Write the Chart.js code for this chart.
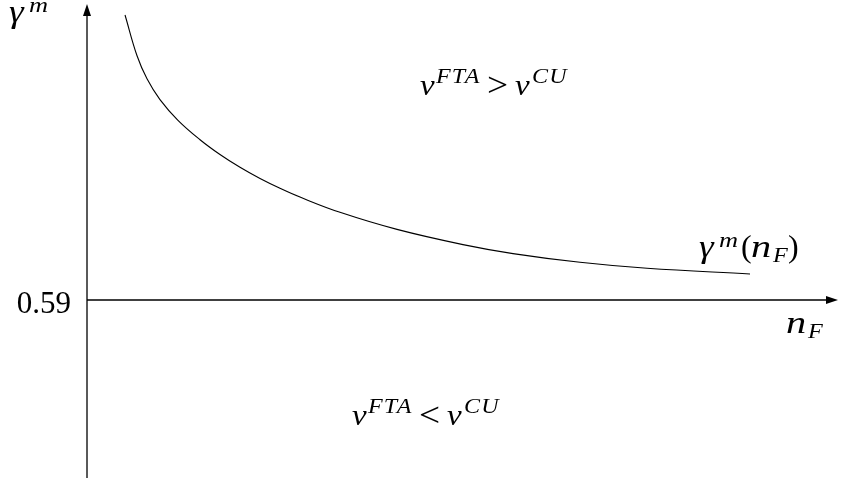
<!DOCTYPE html>
<html>
<head>
<meta charset="utf-8">
<script src="https://cdn.jsdelivr.net/npm/chart.js@4"></script>
<style>
  html, body { margin: 0; padding: 0; background: #fff; }
  #wrap { width: 841px; height: 482px; }
</style>
</head>
<body>
<div id="wrap"><canvas id="gammaChart" width="841" height="482"></canvas></div>
<script>
// curve gamma^m(n_F)
const nF = [0.507, 0.667, 0.8, 0.973, 1.213, 1.507, 1.773, 2.04, 2.307, 2.573, 2.84, 3.373, 4.133, 5.013, 5.68, 6.573, 7.467, 8.84];
const gammaM = [0.875, 0.8342, 0.8112, 0.7904, 0.7697, 0.7503, 0.7355, 0.7227, 0.7115, 0.7017, 0.6929, 0.6777, 0.6606, 0.6454, 0.6364, 0.6277, 0.6217, 0.616];
const yTickValues = [0.59];
const yTickLabels = ['0.59'];

const SERIF = '"Liberation Serif", "DejaVu Serif", serif';

// draw math pieces at offsets from an anchor: {t, ox, size, it, rise, sx}
function drawMath(ctx, x, y, pieces) {
  pieces.forEach(function (p) {
    ctx.save();
    ctx.font = (p.it ? 'italic ' : '') + p.size + 'px ' + SERIF;
    ctx.translate(x + p.ox, y - (p.rise || 0));
    ctx.scale(p.sx || 1, 1);
    if (p.ls) ctx.letterSpacing = p.ls + 'px';
    ctx.fillText(p.t, 0, 0);
    ctx.restore();
  });
}

const vCompare = function (rel) {
  return [
    { t: 'v', ox: 0, size: 30, it: true, sx: 1.1 },
    { t: 'FTA', ox: 16, size: 20, it: true, rise: 12, sx: 1.2, ls: 1 },
    { t: rel, ox: 67, size: 34, sx: 1.1, rise: -1 },
    { t: 'v', ox: 95, size: 30, it: true, sx: 1.1 },
    { t: 'CU', ox: 112, size: 20, it: true, rise: 12, sx: 1.2, ls: 1 },
  ];
};

const axesAndLabels = {
  id: 'axesAndLabels',
  afterDatasetsDraw(chart) {
    const ctx = chart.ctx;
    const xs = chart.scales.x;
    const ys = chart.scales.y;
    const x0 = xs.getPixelForValue(0);
    const y0 = ys.getPixelForValue(yTickValues[0]);
    ctx.save();
    ctx.strokeStyle = '#000';
    ctx.fillStyle = '#000';
    ctx.lineWidth = 1.3;

    // vertical axis with arrow
    ctx.beginPath();
    ctx.moveTo(x0, chart.chartArea.bottom - 4);
    ctx.lineTo(x0, 14);
    ctx.stroke();
    ctx.beginPath();
    ctx.moveTo(x0, 4);
    ctx.lineTo(x0 - 4, 16);
    ctx.lineTo(x0 + 4, 16);
    ctx.closePath();
    ctx.fill();

    // horizontal axis with arrow
    const xr = chart.chartArea.right - 3;
    ctx.beginPath();
    ctx.moveTo(x0, y0);
    ctx.lineTo(xr - 10, y0);
    ctx.stroke();
    ctx.beginPath();
    ctx.moveTo(xr, y0);
    ctx.lineTo(xr - 12, y0 - 4);
    ctx.lineTo(xr - 12, y0 + 4);
    ctx.closePath();
    ctx.fill();

    ctx.textBaseline = 'alphabetic';
    ctx.textAlign = 'left';

    // tick label
    ctx.font = '31px ' + SERIF;
    ctx.textAlign = 'right';
    ctx.fillText(yTickLabels[0], x0 - 16, y0 + 13);
    ctx.textAlign = 'left';

    // y axis title
    drawMath(ctx, 9, 22, [
      { t: '\u03B3', ox: 0, size: 31, it: true, sx: 1.2 },
      { t: 'm', ox: 20, size: 22, it: true, rise: 10, sx: 1.2 },
    ]);

    // x axis title
    drawMath(ctx, 786, 333, [
      { t: 'n', ox: 0, size: 31, it: true, sx: 1.3 },
      { t: 'F', ox: 22, size: 21, it: true, rise: -5, sx: 1.15 },
    ]);

    // curve label
    drawMath(ctx, 699, 257, [
      { t: '\u03B3', ox: 0, size: 31, it: true, sx: 1.2 },
      { t: 'm', ox: 20, size: 22, it: true, rise: 10, sx: 1.2 },
      { t: '(', ox: 42, size: 32 },
      { t: 'n', ox: 52, size: 31, it: true, sx: 1.3 },
      { t: 'F', ox: 74, size: 21, it: true, rise: -5, sx: 1.15 },
      { t: ')', ox: 89, size: 32 },
    ]);

    // region labels
    drawMath(ctx, 420, 95, vCompare('>'));
    drawMath(ctx, 352, 425, vCompare('<'));
    ctx.restore();
  },
};

new Chart(document.getElementById('gammaChart').getContext('2d'), {
  type: 'line',
  data: {
    datasets: [
      {
        label: 'gamma m',
        data: nF.map((n, i) => ({ x: n, y: gammaM[i] })),
        borderColor: '#000',
        borderWidth: 1.1,
        pointRadius: 0,
        fill: false,
        tension: 0.4,
      },
    ],
  },
  options: {
    responsive: false,
    animation: false,
    layout: { padding: 0 },
    plugins: { legend: { display: false }, tooltip: { enabled: false } },
    scales: {
      x: { type: 'linear', display: false, min: -1.16, max: 10.053 },
      y: { type: 'linear', display: false, min: 0.408, max: 0.89 },
    },
  },
  plugins: [axesAndLabels],
});
</script>
</body>
</html>
